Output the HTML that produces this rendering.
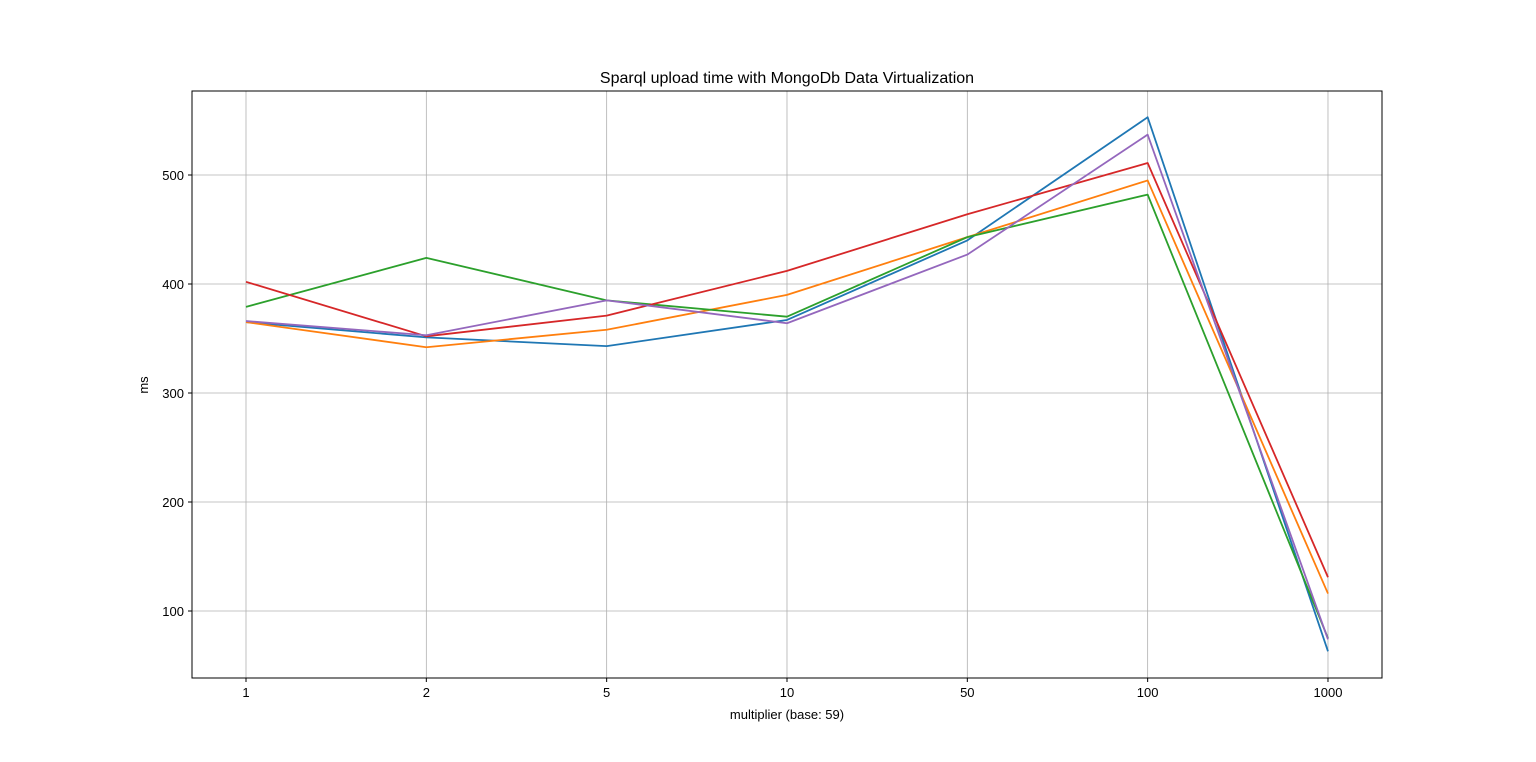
<!DOCTYPE html>
<html><head><meta charset="utf-8"><style>
body{margin:0;background:#fff}
svg{display:block;font-family:"Liberation Sans","DejaVu Sans",sans-serif}
</style></head><body>
<svg id="chart" width="1536" height="762">
<rect width="1536" height="762" fill="#fff"/>
<text x="787" y="83" font-size="16" text-anchor="middle">Sparql upload time with MongoDb Data Virtualization</text>
<g id="grid"></g>
<g id="lines"></g>
<g id="ticks"></g>
<rect x="192" y="91" width="1190" height="587" fill="none" stroke="#000" stroke-width="1"/>
<text x="787" y="719" font-size="13" text-anchor="middle">multiplier (base: 59)</text>
<text x="148" y="385" font-size="13" text-anchor="middle" transform="rotate(-90 148 385)">ms</text>
</svg>
<script>
const categories = ["1","2","5","10","50","100","1000"];
const yTicks = [100,200,300,400,500];
const blueValues   = [365,351,343,367,440,553,63];
const orangeValues = [365,342,358,390,443,495,116];
const greenValues  = [379,424,385,370,443,482,75];
const redValues    = [402,352,371,412,464,511,131];
const purpleValues = [366,353,385,364,427,537,74];

const NS="http://www.w3.org/2000/svg";
const xPos=i=>246+i*180.33;
const yPos=v=>611-(v-100)*1.09;
const grid=document.getElementById('grid'), ticks=document.getElementById('ticks'), lines=document.getElementById('lines');
function mk(tag,attrs,parent){const e=document.createElementNS(NS,tag);for(const k in attrs)e.setAttribute(k,attrs[k]);parent.appendChild(e);return e;}
categories.forEach((c,i)=>{
  const x=xPos(i);
  const g=mk('line',{x1:x,x2:x,y1:91,y2:678,stroke:'#b0b0b0','stroke-width':0.8},grid);
  
  
  const t=mk('line',{x1:x,x2:x,y1:678,y2:682,stroke:'#000'},ticks);
  
  
  const l=mk('text',{x:x,y:697,'font-size':13,'text-anchor':'middle'},ticks);l.textContent=c;
  
  
});
yTicks.forEach(v=>{
  const y=yPos(v);
  const g=mk('line',{x1:192,x2:1382,y1:y,y2:y,stroke:'#b0b0b0','stroke-width':0.8},grid);
  
  
  const t=mk('line',{x1:188,x2:192,y1:y,y2:y,stroke:'#000'},ticks);
  
  
  const l=mk('text',{x:184,y:y+5,'font-size':13,'text-anchor':'end'},ticks);l.textContent=v;
  
  
});
const series=[[blueValues,'#1f77b4','blue'],[orangeValues,'#ff7f0e','orange'],[greenValues,'#2ca02c','green'],[redValues,'#d62728','red'],[purpleValues,'#9467bd','purple']];
series.forEach(([vals,col,nm])=>{
  const p=mk('polyline',{points:vals.map((v,i)=>xPos(i)+','+yPos(v)).join(' '),fill:'none',stroke:col,'stroke-width':1.8,'stroke-linejoin':'round'},lines);
  
  
});
</script>
</body></html>
